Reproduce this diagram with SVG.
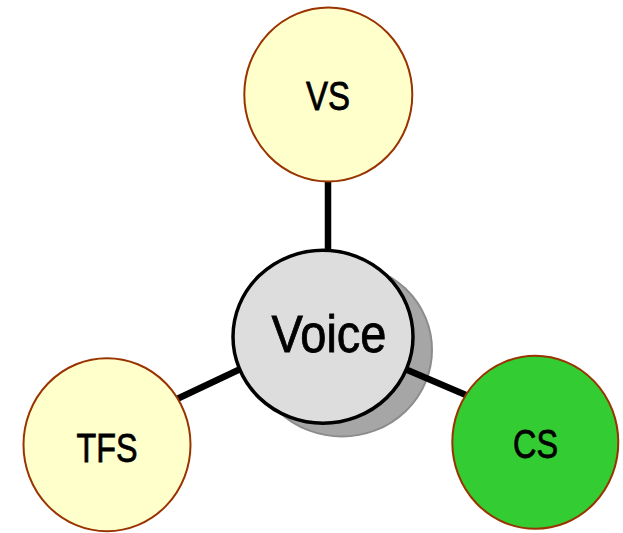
<svg xmlns="http://www.w3.org/2000/svg" width="623" height="533" viewBox="0 0 623 533">
<style>
.lbl{font-family:"Liberation Sans Narrow","Arial Narrow","Liberation Sans",sans-serif;text-anchor:middle;fill:#000;stroke:#000;stroke-width:0.8}
.sat{stroke:#993300;stroke-width:2}
.con{stroke:#000;stroke-width:6.5;fill:none}
</style>
<rect width="623" height="533" fill="#fff"/>
<g id="voice-shadow">
<ellipse cx="342" cy="350" rx="90" ry="86.5" fill="#a6a6a6" stroke="#8c8c8c" stroke-width="2"/>
</g>
<g id="connectors">
<line class="con" x1="328" y1="175" x2="328" y2="270"/>
<line class="con" x1="323" y1="330" x2="160" y2="407"/>
<line class="con" x1="323" y1="334" x2="480" y2="401"/>
</g>
<g id="voice">
<ellipse cx="323" cy="336.7" rx="90" ry="86.5" fill="#dddddd" stroke="#000" stroke-width="3.5"/>
<text class="lbl" x="329" y="352" font-size="51" textLength="115" lengthAdjust="spacingAndGlyphs">Voice</text>
</g>
<g id="vs">
<ellipse class="sat" cx="328.3" cy="94.5" rx="84" ry="87" fill="#ffffcc"/>
<text class="lbl" x="328" y="110" font-size="40" textLength="44" lengthAdjust="spacingAndGlyphs">VS</text>
</g>
<g id="tfs">
<ellipse class="sat" cx="107" cy="444.7" rx="83.5" ry="86.5" fill="#ffffcc"/>
<text class="lbl" x="107" y="462" font-size="40" textLength="61" lengthAdjust="spacingAndGlyphs">TFS</text>
</g>
<g id="cs">
<ellipse class="sat" cx="535.3" cy="442.3" rx="83" ry="86.5" fill="#33cc33"/>
<text class="lbl" x="535.5" y="458" font-size="40" textLength="45" lengthAdjust="spacingAndGlyphs">CS</text>
</g>
</svg>
